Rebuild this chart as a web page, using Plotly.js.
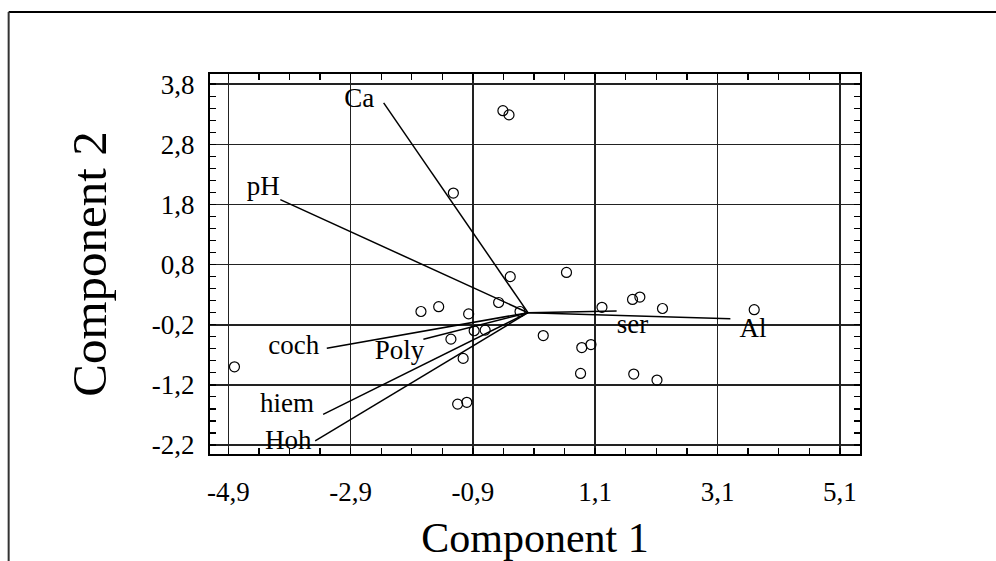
<!DOCTYPE html>
<html>
<head>
<meta charset="utf-8">
<script src="https://cdn.plot.ly/plotly-3.0.1.min.js"></script>
<style>
html,body{margin:0;padding:0;background:#fff;}
#chart{width:996px;height:561px;}
</style>
</head>
<body>
<div id="chart"></div>
<script>
// Scores (observations)
var scoreX = [-4.80, -1.75, -1.46, -0.97, -0.48, -0.29, -1.26, -0.88, -0.70, -1.06, -1.15, -1.00, 0.25, -1.22, -0.41, -0.31, 0.63, 1.21, 1.71, 1.83, 2.20, 3.70, 0.88, 1.03, 0.86, 1.73, 2.11, -0.13];
var scoreY = [-0.90, 0.02, 0.10, -0.02, 0.17, 0.60, -0.44, -0.30, -0.29, -0.76, -1.52, -1.49, -0.38, 1.99, 3.36, 3.29, 0.67, 0.09, 0.22, 0.26, 0.07, 0.05, -0.58, -0.53, -1.01, -1.02, -1.12, 0.02];

// Variable loadings (vectors from origin)
var vecNames = ["Ca", "pH", "coch", "Poly", "hiem", "Hoh", "ser", "Al"];
var vecX = [-2.36, -4.05, -3.29, -1.71, -3.35, -3.48, 1.45, 3.31];
var vecY = [3.49, 1.88, -0.59, -0.44, -1.69, -2.13, 0.03, -0.10];
var labelX = [-2.76, -4.33, -3.83, -2.10, -3.94, -3.92, 1.71, 3.68];
var labelY = [3.54, 2.07, -0.58, -0.65, -1.54, -2.16, -0.22, -0.30];

var xTickVals = [-4.9, -2.9, -0.9, 1.1, 3.1, 5.1];
var xTickText = ["-4,9", "-2,9", "-0,9", "1,1", "3,1", "5,1"];
var yTickVals = [-2.2, -1.2, -0.2, 0.8, 1.8, 2.8, 3.8];
var yTickText = ["-2,2", "-1,2", "-0,2", "0,8", "1,8", "2,8", "3,8"];

var FONT = "Liberation Serif, Times New Roman, serif";

var lx = [], ly = [];
for (var i = 0; i < vecNames.length; i++) {
  lx.push(0, vecX[i], null);
  ly.push(0, vecY[i], null);
}

var traces = [
  {x: lx, y: ly, mode: "lines", type: "scatter", line: {color: "#000", width: 1.5}, hoverinfo: "skip", showlegend: false},
  {x: scoreX, y: scoreY, mode: "markers", type: "scatter",
   marker: {symbol: "circle-open", size: 10, color: "#000", line: {width: 1.2, color: "#000"}}, showlegend: false},
  {x: labelX, y: labelY, mode: "text", type: "scatter", text: vecNames,
   textfont: {family: FONT, size: 27, color: "#000"}, textposition: "middle center", showlegend: false}
];

// frame in paper coords (plot area: x 209.5..860, y 74..454 px)
var L = 209.5, R = 860, T = 74, B = 454;
function px2paperX(p){ return (p - L) / (R - L); }
function px2paperY(p){ return (B - p) / (B - T); }

var layout = {
  width: 996, height: 561,
  margin: {l: L, r: 996 - R, t: T, b: 561 - B, pad: 0},
  paper_bgcolor: "#fff", plot_bgcolor: "#fff",
  font: {family: FONT, color: "#000", size: 27},
  showlegend: false,
  xaxis: {
    range: [-5.2, 5.43], tickvals: xTickVals, ticktext: xTickText,
    showgrid: true, gridcolor: "#222", gridwidth: 1.6, zeroline: false,
    showline: true, linecolor: "#000", linewidth: 2, mirror: "allticks",
    ticks: "inside", ticklen: 6, tickcolor: "#000", tickwidth: 1.5,
    minor: {dtick: 0.5, tick0: -4.9, ticks: "inside", ticklen: 6, tickcolor: "#000", tickwidth: 1.2, showgrid: false},
    tickfont: {family: FONT, size: 27, color: "#000"},
    ticklabelstandoff: 13,
    automargin: false,
    title: {text: "Component 1", font: {family: FONT, size: 42, color: "#000"}, standoff: 24}
  },
  yaxis: {
    range: [-2.35, 3.97], tickvals: yTickVals, ticktext: yTickText,
    showgrid: true, gridcolor: "#222", gridwidth: 1.6, zeroline: false,
    showline: true, linecolor: "#000", linewidth: 2, mirror: "allticks",
    ticks: "inside", ticklen: 6, tickcolor: "#000", tickwidth: 1.5,
    minor: {dtick: 0.2, tick0: -2.2, ticks: "inside", ticklen: 6, tickcolor: "#000", tickwidth: 1.2, showgrid: false},
    tickfont: {family: FONT, size: 27, color: "#000"},
    ticklabelstandoff: 8,
    automargin: false,
    title: {text: "Component 2", font: {family: FONT, size: 49, color: "#000"}, standoff: 30}
  },
  shapes: [
    {type: "line", xref: "paper", yref: "paper", x0: px2paperX(8), x1: px2paperX(1000), y0: px2paperY(12), y1: px2paperY(12), line: {color: "#000", width: 2}},
    {type: "line", xref: "paper", yref: "paper", x0: px2paperX(8), x1: px2paperX(8), y0: px2paperY(12), y1: px2paperY(565), line: {color: "#333", width: 2}}
  ]
};

Plotly.newPlot("chart", traces, layout, {staticPlot: true, displayModeBar: false});
</script>
</body>
</html>
